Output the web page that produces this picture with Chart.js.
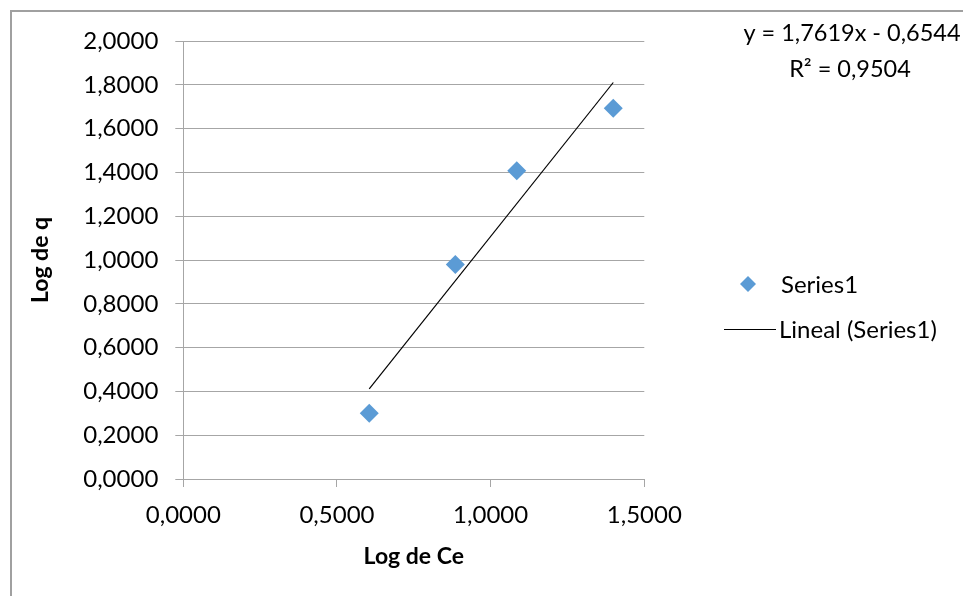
<!DOCTYPE html>
<html>
<head>
<meta charset="utf-8">
<script src="https://cdn.jsdelivr.net/npm/chart.js@4/dist/chart.umd.min.js"></script>
<style>
  html, body { margin: 0; padding: 0; background: #ffffff; }
  #wrap { position: relative; width: 963px; height: 596px; }
  canvas { display: block; }
</style>
</head>
<body>
<div id="wrap"><canvas id="c" width="963" height="596"></canvas></div>
<script>
// ---- data ----
const xValues = [0.605, 0.885, 1.085, 1.399];   // Log de Ce
const yValues = [0.300, 0.980, 1.408, 1.693];   // Log de q
const seriesName = 'Series1';
const trendName = 'Lineal (Series1)';
const trendSlope = 1.7619;
const trendIntercept = -0.6544;
const rSquared = 0.9504;
const xTickValues = [0, 0.5, 1.0, 1.5];
const yTickValues = [0, 0.2, 0.4, 0.6, 0.8, 1.0, 1.2, 1.4, 1.6, 1.8, 2.0];
const xTitle = 'Log de Ce';
const yTitle = 'Log de q';

const fmt = v => Number(v).toFixed(4).replace('.', ',');
const FONT = 'Lato, "Open Sans", sans-serif';
const BLUE = '#5b9bd5';
const GRID = '#a6a6a6';

const points = xValues.map((x, i) => ({ x: x, y: yValues[i] }));
const xMin = Math.min(...xValues), xMax = Math.max(...xValues);
const trend = [xMin, xMax].map(x => ({ x: x, y: trendSlope * x + trendIntercept }));

const frame = {
  id: 'frame',
  beforeDraw(chart) {
    const ctx = chart.ctx;
    ctx.save();
    ctx.fillStyle = '#ffffff';
    ctx.fillRect(0, 0, chart.width, chart.height);
    ctx.strokeStyle = '#a0a0a0';
    ctx.lineWidth = 2;
    ctx.beginPath();
    ctx.moveTo(11, chart.height);
    ctx.lineTo(11, 11);
    ctx.lineTo(chart.width, 11);
    ctx.stroke();
    ctx.restore();
  }
};

const annotations = {
  id: 'annotations',
  afterDraw(chart) {
    const ctx = chart.ctx;
    ctx.save();
    ctx.fillStyle = '#000000';
    ctx.font = '23.5px ' + FONT;
    ctx.textBaseline = 'middle';
    // equation + R²
    ctx.textAlign = 'center';
    const eq = 'y = ' + fmt(trendSlope) + 'x - ' + fmt(-trendIntercept);
    ctx.fillText(eq, 852, 33);
    ctx.fillText('R² = ' + fmt(rSquared), 850, 69);
    // legend
    ctx.font = '24px ' + FONT;
    ctx.textAlign = 'left';
    const ly1 = 284, ly2 = 329;
    ctx.fillStyle = BLUE;
    ctx.beginPath();
    ctx.moveTo(748, ly1 - 8);
    ctx.lineTo(756, ly1);
    ctx.lineTo(748, ly1 + 8);
    ctx.lineTo(740, ly1);
    ctx.closePath();
    ctx.fill();
    ctx.fillStyle = '#000000';
    ctx.fillText(seriesName, 781, ly1 + 1);
    ctx.strokeStyle = '#000000';
    ctx.lineWidth = 1;
    ctx.beginPath();
    ctx.moveTo(724, ly2 + 0.5);
    ctx.lineTo(776, ly2 + 0.5);
    ctx.stroke();
    ctx.fillText(trendName, 779, ly2 + 1);
    ctx.restore();
  }
};

new Chart(document.getElementById('c'), {
  type: 'scatter',
  data: {
    datasets: [
      {
        label: seriesName,
        data: points,
        pointStyle: 'rectRot',
        pointRadius: 9.5,
        pointHoverRadius: 9.5,
        backgroundColor: BLUE,
        borderColor: BLUE,
        borderWidth: 0,
        order: 2
      },
      {
        label: trendName,
        type: 'line',
        data: trend,
        borderColor: '#000000',
        borderWidth: 1.2,
        pointRadius: 0,
        fill: false,
        order: 1
      }
    ]
  },
  options: {
    responsive: false,
    animation: false,
    devicePixelRatio: 1,
    layout: { padding: { left: 0, top: 41, right: 318.7, bottom: 0 } },
    plugins: {
      legend: { display: false },
      tooltip: { enabled: false }
    },
    scales: {
      x: {
        type: 'linear',
        min: 0, max: 1.5,
        afterFit(scale) { scale.height = 117; },
        afterBuildTicks(scale) { scale.ticks = xTickValues.map(v => ({ value: v })); },
        grid: { drawOnChartArea: false, drawTicks: true, tickLength: 8, color: GRID, tickColor: GRID },
        border: { display: true, color: GRID, width: 1 },
        ticks: {
          padding: 14,
          color: '#000000',
          font: { family: FONT, size: 24 },
          callback: v => fmt(v)
        },
        title: {
          display: true,
          text: xTitle,
          color: '#000000',
          font: { family: FONT, size: 23, weight: 'bold' },
          padding: { top: 0, bottom: 26 }
        }
      },
      y: {
        type: 'linear',
        min: 0, max: 2,
        afterFit(scale) { scale.width = 183.3; },
        afterBuildTicks(scale) { scale.ticks = yTickValues.map(v => ({ value: v })); },
        grid: { drawOnChartArea: true, drawTicks: true, tickLength: 8, color: GRID, tickColor: GRID },
        border: { display: true, color: GRID, width: 1 },
        ticks: {
          padding: 17,
          color: '#000000',
          font: { family: FONT, size: 24 },
          callback: v => fmt(v)
        },
        title: {
          display: true,
          text: yTitle,
          color: '#000000',
          font: { family: FONT, size: 23, weight: 'bold' },
          padding: { top: 27, bottom: 0 }
        }
      }
    }
  },
  plugins: [frame, annotations]
});
</script>
</body>
</html>
